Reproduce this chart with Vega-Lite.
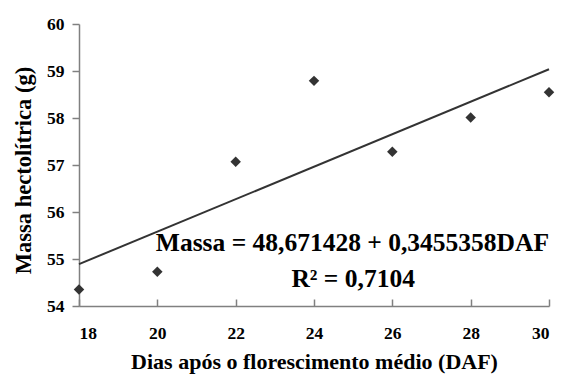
{
  "$schema": "https://vega.github.io/schema/vega-lite/v6.json",
  "width": 470,
  "height": 282,
  "autosize": {"type": "none"},
  "padding": {"left": 79, "top": 24, "right": 13, "bottom": 70},
  "background": "white",
  "config": {
    "view": {"stroke": null},
    "font": "Liberation Serif",
    "axis": {
      "labelFont": "Liberation Serif",
      "titleFont": "Liberation Serif",
      "labelFontWeight": "bold",
      "titleFontWeight": "bold",
      "labelColor": "black",
      "titleColor": "black",
      "domainColor": "#808080",
      "tickColor": "#808080",
      "domainWidth": 1.5,
      "tickWidth": 1.5,
      "grid": false
    }
  },
  "datasets": {
    "obs": [
      {"DAF": 18, "Massa": 54.35},
      {"DAF": 20, "Massa": 54.73},
      {"DAF": 22, "Massa": 57.07},
      {"DAF": 24, "Massa": 58.79},
      {"DAF": 26, "Massa": 57.28},
      {"DAF": 28, "Massa": 58.01},
      {"DAF": 30, "Massa": 58.55}
    ],
    "fit": [
      {"DAF": 18, "Massa": 54.891},
      {"DAF": 30, "Massa": 59.037}
    ],
    "eq": [
      {"DAF": 30, "Massa": 55.16, "label": "Massa = 48,671428 + 0,3455358DAF"}
    ],
    "r2": [
      {"DAF": 25, "Massa": 54.41, "label": "R² = 0,7104"}
    ]
  },
  "layer": [
    {
      "data": {"name": "fit"},
      "mark": {"type": "line", "color": "#333333", "strokeWidth": 2},
      "encoding": {
        "x": {
          "field": "DAF", "type": "quantitative",
          "scale": {"domain": [18, 30], "nice": false},
          "axis": {
            "values": [18, 20, 22, 24, 26, 28, 30],
            "title": "Dias após o florescimento médio (DAF)",
            "titleFont": "Liberation Serif",
            "labelFont": "Liberation Serif",
            "titleFontSize": 22,
            "labelFontSize": 17.5,
            "tickSize": -7,
            "labelPadding": 25,
            "titlePadding": 10
          }
        },
        "y": {
          "field": "Massa", "type": "quantitative",
          "scale": {"domain": [54, 60], "nice": false, "zero": false},
          "axis": {
            "values": [54, 55, 56, 57, 58, 59, 60],
            "title": "Massa hectolítrica (g)",
            "titleFont": "Liberation Serif",
            "labelFont": "Liberation Serif",
            "titleFontSize": 22.5,
            "titleY": 146,
            "labelFontSize": 17.5,
            "tickSize": 7,
            "labelPadding": 8,
            "titlePadding": 11
          }
        }
      }
    },
    {
      "data": {"name": "obs"},
      "mark": {"type": "point", "shape": "diamond", "filled": true, "color": "#333333", "opacity": 1, "size": 110},
      "encoding": {
        "x": {"field": "DAF", "type": "quantitative"},
        "y": {"field": "Massa", "type": "quantitative"}
      }
    },
    {
      "data": {"name": "eq"},
      "mark": {"type": "text", "font": "Liberation Serif", "fontWeight": "bold", "fontSize": 25.5, "baseline": "alphabetic", "align": "right", "color": "black"},
      "encoding": {
        "x": {"field": "DAF", "type": "quantitative"},
        "y": {"field": "Massa", "type": "quantitative"},
        "text": {"field": "label"}
      }
    },
    {
      "data": {"name": "r2"},
      "mark": {"type": "text", "font": "Liberation Serif", "fontWeight": "bold", "fontSize": 25.5, "baseline": "alphabetic", "align": "center", "color": "black"},
      "encoding": {
        "x": {"field": "DAF", "type": "quantitative"},
        "y": {"field": "Massa", "type": "quantitative"},
        "text": {"field": "label"}
      }
    }
  ]
}
